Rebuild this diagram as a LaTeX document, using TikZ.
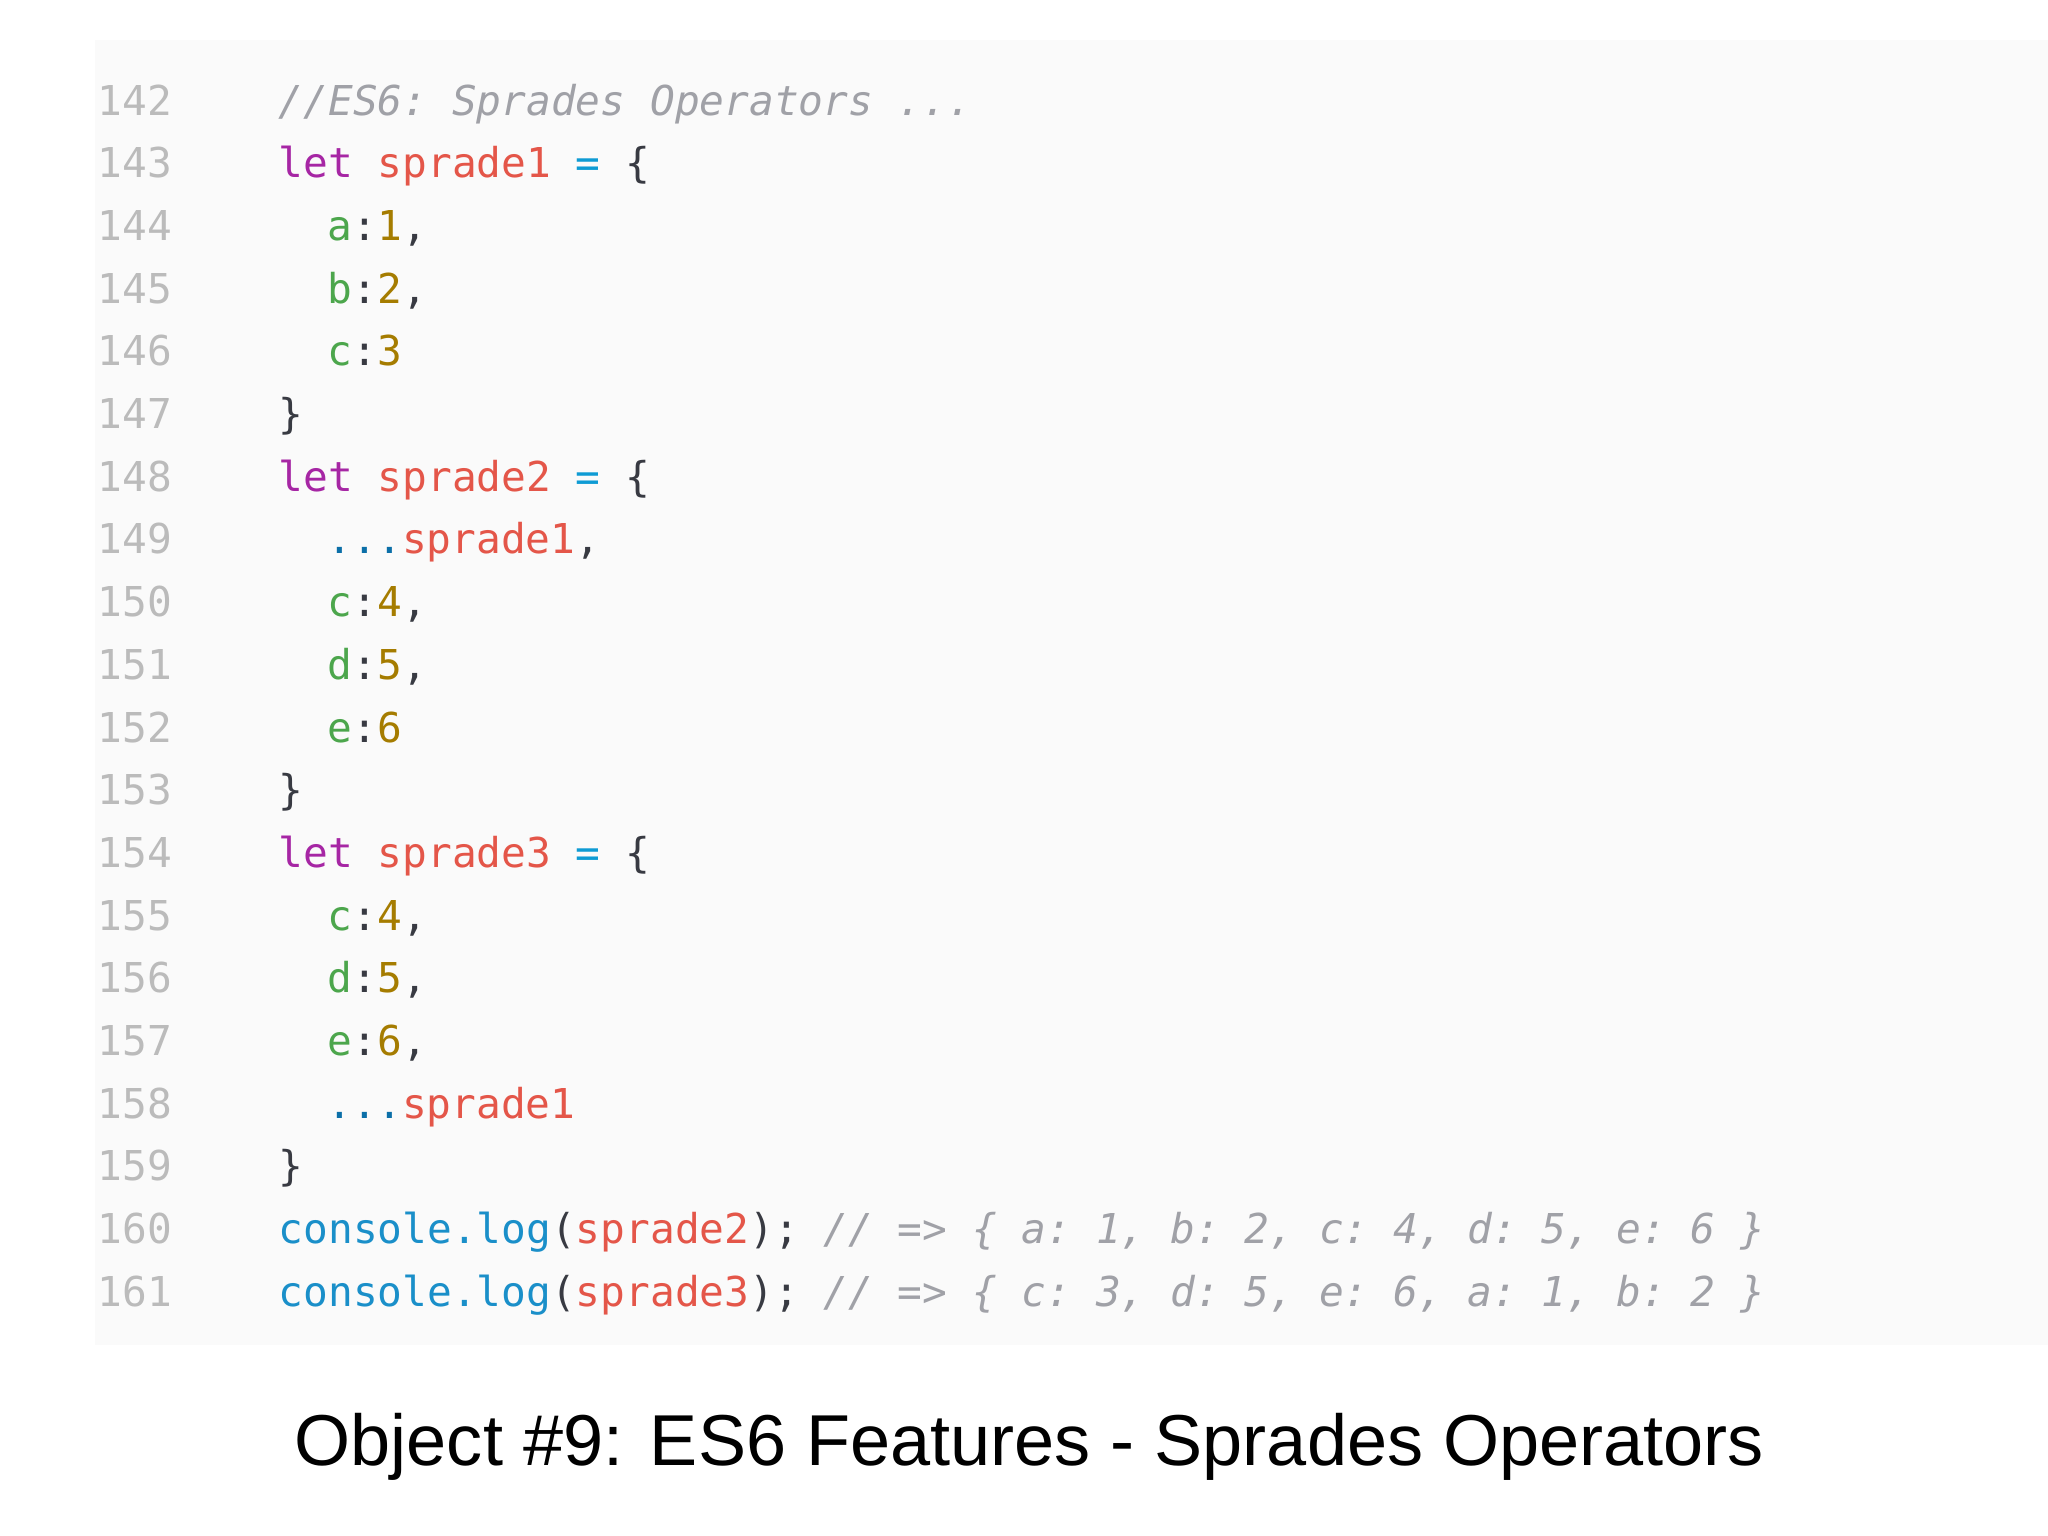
\documentclass[tikz,border=0pt]{standalone}
\usepackage{fontspec}
\setmonofont{DejaVu Sans Mono}
\setsansfont{Liberation Sans}
\definecolor{kw}{HTML}{A626A4}
\definecolor{var}{HTML}{E45649}
\definecolor{op}{HTML}{0E9BD4}
\definecolor{key}{HTML}{4CA64C}
\definecolor{num}{HTML}{A57C00}
\definecolor{cmt}{HTML}{A0A1A7}
\definecolor{lno}{HTML}{BBBBBB}
\definecolor{txt}{HTML}{383A42}
\definecolor{fn}{HTML}{1A8FC9}
\definecolor{spr}{HTML}{0B6FA8}
\newcommand{\cxK}[1]{\textcolor{kw}{#1}}
\newcommand{\cxV}[1]{\textcolor{var}{#1}}
\newcommand{\cxO}[1]{\textcolor{op}{#1}}
\newcommand{\cxE}[1]{\textcolor{key}{#1}}
\newcommand{\cxN}[1]{\textcolor{num}{#1}}
\newcommand{\cxC}[1]{\textcolor{cmt}{\itshape #1}}
\newcommand{\cxF}[1]{\textcolor{fn}{#1}}
\newcommand{\cxS}[1]{\textcolor{spr}{#1}}
\begin{document}
\begin{tikzpicture}[x=0.01cm,y=-0.01cm,
  code/.style={anchor=base west,inner sep=0pt,font=\ttfamily\fontsize{11.7}{14}\selectfont,text=txt},
  ln/.style={anchor=base east,inner sep=0pt,font=\ttfamily\fontsize{11.7}{14}\selectfont,text=lno}]
\fill[white] (0,0) rectangle (2048,1536);
\fill[black!2] (95,40) rectangle (2048,1345);
\foreach \n [count=\i from 0] in {142,...,161}
  \node[ln] (l\n) at (173,115+62.7*\i) {\n};
\def\X{278}\def\Y{327}
\node[code] (c0) at (\X,115) {\cxC{//ES6: Sprades Operators ...}};
\node[code] (c1) at (\X,177.7) {\cxK{let} \cxV{sprade1} \cxO{=} \{};
\node[code] (c2) at (\Y,240.4) {\cxE{a}:\cxN{1},};
\node[code] (c3) at (\Y,303.1) {\cxE{b}:\cxN{2},};
\node[code] (c4) at (\Y,365.8) {\cxE{c}:\cxN{3}};
\node[code] (c5) at (\X,428.5) {\}};
\node[code] (c6) at (\X,491.2) {\cxK{let} \cxV{sprade2} \cxO{=} \{};
\node[code] (c7) at (\Y,553.9) {\cxS{...}\cxV{sprade1},};
\node[code] (c8) at (\Y,616.6) {\cxE{c}:\cxN{4},};
\node[code] (c9) at (\Y,679.3) {\cxE{d}:\cxN{5},};
\node[code] (c10) at (\Y,742) {\cxE{e}:\cxN{6}};
\node[code] (c11) at (\X,804.7) {\}};
\node[code] (c12) at (\X,867.4) {\cxK{let} \cxV{sprade3} \cxO{=} \{};
\node[code] (c13) at (\Y,930.1) {\cxE{c}:\cxN{4},};
\node[code] (c14) at (\Y,992.8) {\cxE{d}:\cxN{5},};
\node[code] (c15) at (\Y,1055.5) {\cxE{e}:\cxN{6},};
\node[code] (c16) at (\Y,1118.2) {\cxS{...}\cxV{sprade1}};
\node[code] (c17) at (\X,1180.9) {\}};
\node[code] (c18) at (\X,1243.6) {\cxF{console.log}(\cxV{sprade2}); \cxC{// => \{ a: 1, b: 2, c: 4, d: 5, e: 6 \}}};
\node[code] (c19) at (\X,1306.3) {\cxF{console.log}(\cxV{sprade3}); \cxC{// => \{ c: 3, d: 5, e: 6, a: 1, b: 2 \}}};
\node[anchor=base west,inner sep=0pt,font=\sffamily\fontsize{20.5}{24}\selectfont] (cap) at (294,1465) {Object \#9: ES6 Features - Sprades Operators};
\end{tikzpicture}
\end{document}
